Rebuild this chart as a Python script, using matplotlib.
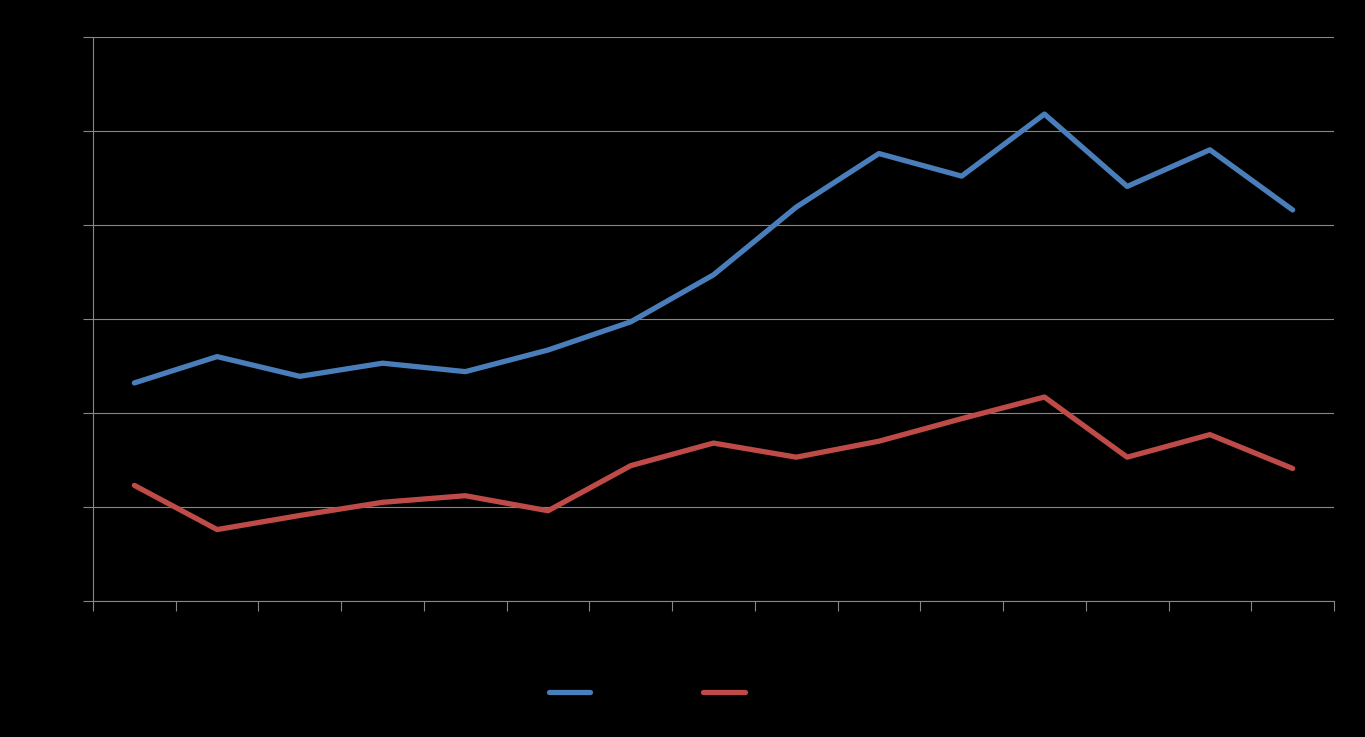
import numpy as np
import matplotlib.pyplot as plt
from matplotlib.lines import Line2D

# data (no labels shown in the original)
periods = list(range(1, 16))
series_a = [23.2, 26.0, 23.9, 25.3, 24.4, 26.7, 29.7, 34.7, 41.9, 47.6, 45.2, 51.8, 44.1, 48.0, 41.6]
series_b = [12.3, 7.6, 9.1, 10.5, 11.2, 9.6, 14.4, 16.8, 15.3, 17.0, 19.4, 21.7, 15.3, 17.7, 14.1]
y_ticks = [0, 10, 20, 30, 40, 50, 60]

blue = "#4A7EBB"
red = "#BE4B48"
grey = "#868686"

fig = plt.figure(figsize=(13.65, 7.37), dpi=100, facecolor="black")
ax = fig.add_axes([93 / 1365, 1 - 601 / 737, (1334 - 93) / 1365, (601 - 37) / 737])
ax.set_facecolor("black")

x = np.arange(len(periods))
ax.plot(x, series_a, color=blue, lw=3.8, solid_capstyle="round", solid_joinstyle="round", zorder=3)
ax.plot(x, series_b, color=red, lw=3.8, solid_capstyle="round", solid_joinstyle="round", zorder=3)

ax.set_xlim(-0.5, len(periods) - 0.5)
ax.set_ylim(y_ticks[0], y_ticks[-1])
ax.set_xticks(np.arange(-0.5, len(periods), 1))
ax.set_yticks(y_ticks)
ax.set_xticklabels([])
ax.set_yticklabels([])
ax.yaxis.grid(True, color=grey, lw=0.8)
ax.set_axisbelow(True)
ax.tick_params(axis="both", color=grey, length=7, width=0.8)
for side in ["top", "right"]:
    ax.spines[side].set_visible(False)
for side in ["left", "bottom"]:
    ax.spines[side].set_color(grey)
    ax.spines[side].set_linewidth(0.8)

handles = [Line2D([], [], color=blue, lw=3.8, solid_capstyle="round"),
           Line2D([], [], color=red, lw=3.8, solid_capstyle="round")]
fig.legend(handles, [" ", " "], loc="center", bbox_to_anchor=(654.5 / 1365, 1 - 693 / 737),
           ncol=2, frameon=False, handlelength=3.0, handletextpad=0.8, columnspacing=7.0,
           labelcolor="black")

fig.savefig("out.png", dpi=100, facecolor="black")
